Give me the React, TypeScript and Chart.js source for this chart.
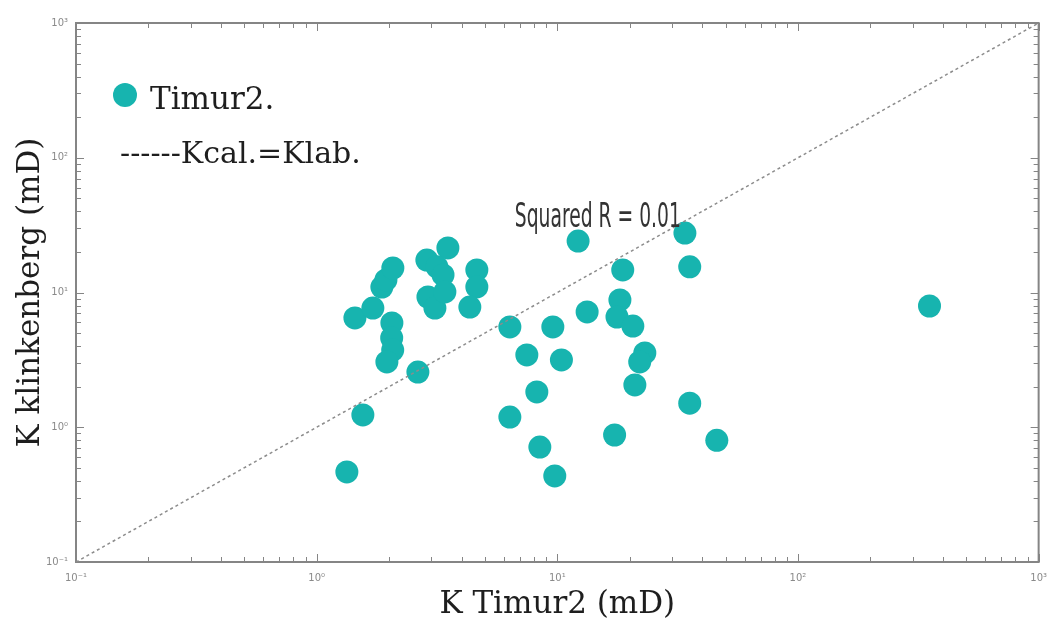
import React, { useEffect, useRef } from "react";
import { Chart, registerables } from "chart.js";

Chart.register(...registerables);

// ---- data ----
const seriesName = "Timur2.";
const lineLabel = "------Kcal.=Klab.";
const xTitle = "K Timur2 (mD)";
const yTitle = "K klinkenberg (mD)";
const rSquaredText = "Squared R = 0.01";

const kTimur2 = [
  1.335, 1.556, 1.442, 1.712, 1.866, 1.94, 2.073, 2.054, 2.05, 2.07, 1.958, 2.634,
  2.87, 3.51, 3.16, 3.35, 2.9, 3.1, 3.41, 4.63, 4.63, 4.33, 12.2, 33.9, 35.5, 18.7,
  18.2, 17.7, 20.6, 13.3, 9.58, 6.35, 7.47, 10.4, 23.1, 22.0, 21.0, 8.22, 6.35, 35.5,
  17.3, 8.46, 46.0, 9.76, 352,
];
const kKlinkenberg = [
  0.466, 1.233, 6.47, 7.67, 10.98, 12.4, 15.2, 5.94, 4.6, 3.74, 3.05, 2.57,
  17.4, 21.4, 15.5, 13.5, 9.26, 7.67, 10.1, 14.7, 11.0, 7.8, 24.1, 27.6, 15.5, 14.7,
  8.8, 6.58, 5.64, 7.17, 5.55, 5.55, 3.44, 3.16, 3.56, 3.05, 2.06, 1.83, 1.19, 1.51,
  0.876, 0.713, 0.8, 0.435, 7.94,
];
const identityLine = [0.1, 1000];
const decadeTicks = [0.1, 1, 10, 100, 1000];
const tickLabels = ["10⁻¹", "10⁰", "10¹", "10²", "10³"];
const rSquaredAnchor = { x: 6.66, y: 30.6 };

const TEAL = "#17b4af";
const AXIS_GRAY = "#858585";

function tickLabel(v: number): string {
  const i = decadeTicks.findIndex((d) => Math.abs(d - v) / d < 1e-6);
  return i >= 0 ? tickLabels[i] : "";
}

const frameTicksPlugin = {
  id: "frameTicks",
  beforeDatasetsDraw(chart: any) {
    const { ctx, chartArea } = chart;
    const { left, right, top, bottom } = chartArea;
    const xs = chart.scales.x;
    const ys = chart.scales.y;
    const vals: { v: number; major: boolean }[] = [];
    for (let i = 0; i < decadeTicks.length - 1; i++) {
      for (let k = 1; k <= 9; k++) vals.push({ v: decadeTicks[i] * k, major: k === 1 });
    }
    vals.push({ v: decadeTicks[decadeTicks.length - 1], major: true });
    ctx.save();
    ctx.strokeStyle = AXIS_GRAY;
    ctx.lineWidth = 1;
    ctx.beginPath();
    for (const t of vals) {
      const len = t.major ? 8 : 5;
      const px = Math.round(xs.getPixelForValue(t.v)) + 0.5;
      ctx.moveTo(px, bottom);
      ctx.lineTo(px, bottom - len);
      ctx.moveTo(px, top);
      ctx.lineTo(px, top + len);
      const py = Math.round(ys.getPixelForValue(t.v)) + 0.5;
      ctx.moveTo(left, py);
      ctx.lineTo(left + len, py);
      ctx.moveTo(right, py);
      ctx.lineTo(right - len, py);
    }
    ctx.stroke();
    ctx.lineWidth = 2;
    ctx.strokeRect(left, top, right - left, bottom - top);
    ctx.restore();
  },
  afterDraw(chart: any) {
    const { ctx, chartArea } = chart;
    const { left, top } = chartArea;
    const xs = chart.scales.x;
    const ys = chart.scales.y;
    ctx.save();
    // legend
    ctx.fillStyle = TEAL;
    ctx.beginPath();
    ctx.arc(left + 49, top + 72, 12, 0, Math.PI * 2);
    ctx.fill();
    ctx.fillStyle = "#1e1e1e";
    ctx.textBaseline = "alphabetic";
    ctx.textAlign = "left";
    ctx.font = '31px "DejaVu Serif"';
    ctx.fillText(seriesName, left + 74, top + 86);
    ctx.font = '30px "DejaVu Serif"';
    ctx.fillText(lineLabel, left + 44, top + 140);
    // R squared annotation
    const ax = xs.getPixelForValue(rSquaredAnchor.x);
    const ay = ys.getPixelForValue(rSquaredAnchor.y);
    ctx.font = '34px "DejaVu Sans"';
    const w = ctx.measureText(rSquaredText).width;
    ctx.translate(ax, ay);
    ctx.scale(166 / w, 1);
    ctx.fillStyle = "#333333";
    ctx.fillText(rSquaredText, 0, 0);
    ctx.restore();
  },
};

export default function App() {
  const canvasRef = useRef<HTMLCanvasElement | null>(null);

  useEffect(() => {
    const canvas = canvasRef.current;
    if (!canvas) return;
    const chart = new Chart(canvas, {
      type: "scatter",
      data: {
        datasets: [
          {
            type: "line",
            label: lineLabel,
            data: identityLine.map((v) => ({ x: v, y: v })),
            borderColor: "#8c8c8c",
            borderDash: [3, 3],
            borderWidth: 1.5,
            pointRadius: 0,
            fill: false,
            order: 0,
          } as any,
          {
            type: "scatter",
            label: seriesName,
            data: kTimur2.map((x, i) => ({ x, y: kKlinkenberg[i] })),
            backgroundColor: TEAL,
            borderColor: TEAL,
            borderWidth: 0,
            pointRadius: 11.5,
            pointHoverRadius: 11.5,
            order: 1,
          },
        ],
      },
      options: {
        animation: false,
        responsive: true,
        maintainAspectRatio: false,
        layout: { padding: { top: 23, right: 18, left: 0, bottom: 0 } },
        plugins: { legend: { display: false }, tooltip: { enabled: false } },
        scales: {
          x: {
            type: "logarithmic",
            min: 0.1,
            max: 1000,
            afterBuildTicks: (s: any) => {
              s.ticks = decadeTicks.map((v) => ({ value: v, major: true }));
            },
            afterFit: (s: any) => {
              s.height = 70;
            },
            ticks: {
              callback: (v: any) => tickLabel(Number(v)),
              color: "#8a8a8a",
              font: { family: "DejaVu Sans", size: 10 },
              padding: 10,
              maxRotation: 0,
              autoSkip: false,
            },
            grid: { display: false, drawTicks: false },
            border: { display: false },
            title: {
              display: true,
              text: xTitle,
              color: "#1e1e1e",
              font: { family: "DejaVu Serif", size: 31 },
              padding: { top: 0, bottom: 8 },
            },
          },
          y: {
            type: "logarithmic",
            min: 0.1,
            max: 1000,
            afterBuildTicks: (s: any) => {
              s.ticks = decadeTicks.map((v) => ({ value: v, major: true }));
            },
            afterFit: (s: any) => {
              s.width = 76;
            },
            ticks: {
              callback: (v: any) => tickLabel(Number(v)),
              color: "#8a8a8a",
              font: { family: "DejaVu Sans", size: 10 },
              padding: 8,
              autoSkip: false,
            },
            grid: { display: false, drawTicks: false },
            border: { display: false },
            title: {
              display: true,
              text: yTitle,
              color: "#1e1e1e",
              font: { family: "DejaVu Serif", size: 31 },
              padding: { top: 12, bottom: 0 },
            },
          },
        },
      },
      plugins: [frameTicksPlugin],
    });
    return () => chart.destroy();
  }, []);

  return (
    <div
      style={{
        position: "fixed",
        left: 0,
        top: 0,
        width: 1057,
        height: 632,
        background: "#ffffff",
      }}
    >
      <canvas ref={canvasRef} />
    </div>
  );
}
